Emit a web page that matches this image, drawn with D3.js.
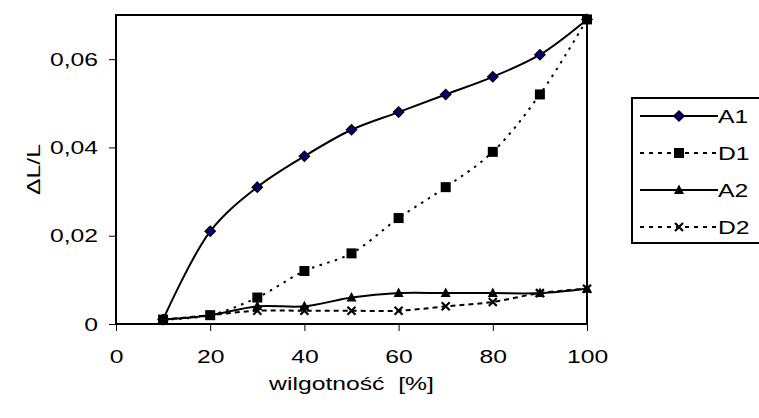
<!DOCTYPE html>
<html>
<head>
<meta charset="utf-8">
<script src="https://cdn.jsdelivr.net/npm/d3@7"></script>
<style>
    body { margin: 0; background: #fff; }
    text { font-family: "Liberation Sans", Arial, sans-serif; fill: #000; }
</style>
</head>
<body>
<div id="chart"></div>
<script>
// humidity [%]
var humidity = [10, 20, 30, 40, 50, 60, 70, 80, 90, 100];

// relative elongation dL/L
var seriesA1 = [0.001, 0.021, 0.031, 0.038, 0.044, 0.048, 0.052, 0.056, 0.061, 0.069];
var seriesD1 = [0.001, 0.002, 0.006, 0.012, 0.016, 0.024, 0.031, 0.039, 0.052, 0.069];
var seriesA2 = [0.001, 0.002, 0.004, 0.004, 0.006, 0.007, 0.007, 0.007, 0.007, 0.008];
var seriesD2 = [0.001, 0.002, 0.003, 0.003, 0.003, 0.003, 0.004, 0.005, 0.007, 0.008];

var seriesNames = ["A1", "D1", "A2", "D2"];
var xTicks = [0, 20, 40, 60, 80, 100];
var yTicks = [0, 0.02, 0.04, 0.06];

var width = 759, height = 418;
var margin = { top: 15, right: 172, bottom: 94, left: 116 };
var w = width - margin.left - margin.right;
var h = height - margin.top - margin.bottom;
var fontSize = "19px";
var stretchK = 1.3;   // the original text is drawn wider than plain Arial

var svg = d3.select("#chart").append("svg")
    .attr("width", width)
    .attr("height", height);

var g = svg.append("g")
    .attr("transform", "translate(" + margin.left + "," + margin.top + ")");

var x = d3.scaleLinear().domain([0, 100]).range([0, w]);
var y = d3.scaleLinear().domain([0, 0.07]).range([h, 0]);

var fmt = function(d) { return d === 0 ? "0" : d3.format(".2f")(d).replace(".", ","); };

// widen text glyphs horizontally
function stretch(sel) {
    sel.each(function() {
        var n = this.getComputedTextLength();
        d3.select(this)
            .attr("textLength", n * stretchK)
            .attr("lengthAdjust", "spacingAndGlyphs");
    });
}

// axes
var xAxis = g.append("g")
    .attr("transform", "translate(0," + h + ")")
    .call(d3.axisBottom(x).tickValues(xTicks).tickSize(7).tickPadding(19));
var yAxis = g.append("g")
    .call(d3.axisLeft(y).tickValues(yTicks).tickSize(7).tickPadding(11).tickFormat(fmt));

[xAxis, yAxis].forEach(function(a) {
    a.select(".domain").remove();
    a.selectAll("line").attr("stroke", "#000").attr("stroke-width", 1);
    a.selectAll("text")
        .style("font-size", fontSize)
        .style("font-family", "Liberation Sans, Arial, sans-serif")
        .call(stretch);
});

// plot frame
g.append("rect")
    .attr("x", 0).attr("y", 0)
    .attr("width", w).attr("height", h)
    .attr("fill", "none")
    .attr("stroke", "#000")
    .attr("stroke-width", 2);

var styles = {
    A1: { data: seriesA1, dash: null, marker: "diamond" },
    D1: { data: seriesD1, dash: "2.5,5.5", marker: "square" },
    A2: { data: seriesA2, dash: null, marker: "triangle" },
    D2: { data: seriesD2, dash: "5,4", marker: "cross" }
};

var line = d3.line()
    .x(function(d) { return x(d.x); })
    .y(function(d) { return y(d.y); })
    .curve(d3.curveCatmullRom.alpha(0.5));

function drawMarker(sel, type) {
    if (type === "diamond") {
        sel.append("path")
            .attr("d", "M0,-5L5,0L0,5L-5,0Z")
            .attr("fill", "#000080")
            .attr("stroke", "#000")
            .attr("stroke-width", 1.5);
    } else if (type === "square") {
        sel.append("rect")
            .attr("x", -5).attr("y", -5)
            .attr("width", 10).attr("height", 10)
            .attr("fill", "#000");
    } else if (type === "triangle") {
        sel.append("path")
            .attr("d", "M0,-5.5L5,4L-5,4Z")
            .attr("fill", "#000");
    } else {
        sel.append("path")
            .attr("d", "M-4,-4L4,4M-4,4L4,-4")
            .attr("stroke", "#000")
            .attr("stroke-width", 2.2);
    }
}

// draw series
seriesNames.forEach(function(name) {
    var s = styles[name];
    var pts = humidity.map(function(hv, i) { return { x: hv, y: s.data[i] }; });

    g.append("path")
        .datum(pts)
        .attr("d", line)
        .attr("fill", "none")
        .attr("stroke", "#000")
        .attr("stroke-width", 2)
        .attr("stroke-dasharray", s.dash);

    g.selectAll(".m-" + name)
        .data(pts)
        .enter().append("g")
        .attr("class", "m-" + name)
        .attr("transform", function(d) { return "translate(" + x(d.x) + "," + y(d.y) + ")"; })
        .each(function() { drawMarker(d3.select(this), s.marker); });
});

// axis titles
svg.append("text")
    .attr("x", margin.left + w / 2)
    .attr("y", 390)
    .attr("text-anchor", "middle")
    .style("font-size", fontSize)
    .style("white-space", "pre")
    .text("wilgotność  [%]")
    .call(stretch);

svg.append("text")
    .attr("transform", "translate(40," + (margin.top + h / 2) + ") rotate(-90)")
    .attr("text-anchor", "middle")
    .style("font-size", fontSize)
    .text("ΔL/L")
    .call(stretch);

// legend
var legend = svg.append("g").attr("transform", "translate(632,98)");
legend.append("rect")
    .attr("x", 0).attr("y", 0)
    .attr("width", 140).attr("height", 145)
    .attr("fill", "#fff")
    .attr("stroke", "#000")
    .attr("stroke-width", 2);

seriesNames.forEach(function(name, i) {
    var s = styles[name];
    var row = legend.append("g").attr("transform", "translate(0," + (18 + i * 37) + ")");
    row.append("line")
        .attr("x1", 8).attr("x2", 86)
        .attr("stroke", "#000")
        .attr("stroke-width", 2)
        .attr("stroke-dasharray", s.dash ? "4,5" : null);
    var m = row.append("g").attr("transform", "translate(47,0)");
    drawMarker(m, s.marker);
    row.append("text")
        .attr("x", 86)
        .attr("y", 7)
        .style("font-size", fontSize)
        .text(name)
        .call(stretch);
});
</script>
</body>
</html>
